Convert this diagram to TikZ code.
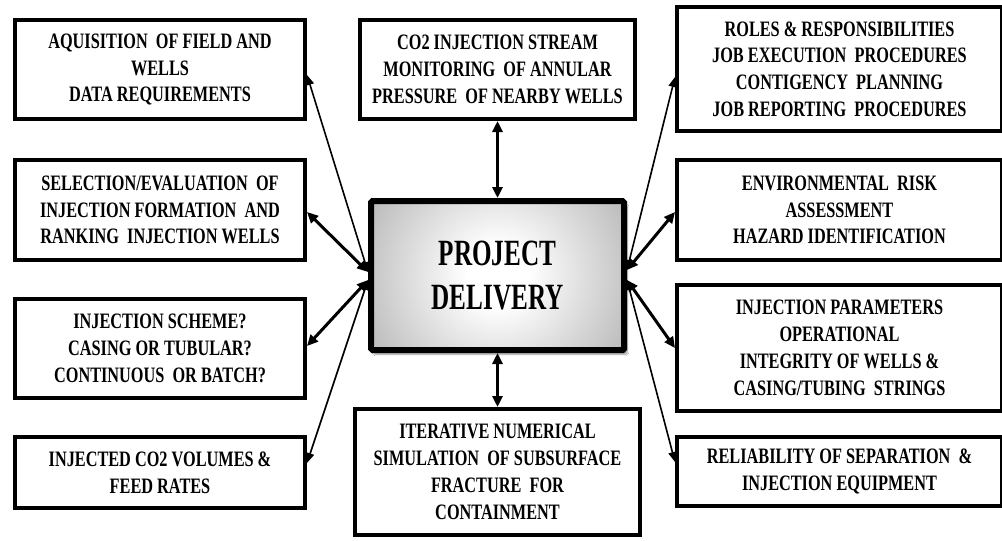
\documentclass[tikz,border=0pt]{standalone}
\usepackage{fontspec}
\setmainfont{Liberation Serif}[FakeStretch=0.74]
\newfontfamily\titlefont{Liberation Serif}[FakeStretch=0.68]
\usetikzlibrary{arrows.meta,shadows.blur}

% soft glow for the central box: white core fading to mid grey
\pgfdeclareradialshading{pdglow}{\pgfpoint{0bp}{0bp}}{%
  color(0bp)=(white); color(6bp)=(white);
  color(42bp)=(black!42); color(80bp)=(black!52)}

\tikzset{
  infobox/.style={draw=black, line width=4pt, fill=white, inner sep=0pt,
    align=center, font=\bfseries\fontsize{22}{26.8}\selectfont},
  hub/.style={draw=black, line width=6pt, rounded corners=1.5pt, inner sep=0pt,
    align=center, font=\titlefont\bfseries\fontsize{37}{44}\selectfont,
    blur shadow={shadow xshift=3pt, shadow yshift=-4pt,
      shadow blur steps=6, shadow opacity=45},
    path picture={\shade[shading=pdglow]
      ([yshift=50pt]path picture bounding box.north west) rectangle
      ([yshift=-50pt]path picture bounding box.south east);}},
  heavylink/.style={line width=3pt,
    {Triangle[length=11pt,width=10pt]}-{Triangle[length=11pt,width=10pt]}},
  lightlink/.style={line width=1.6pt,
    {Triangle[length=10pt,width=8pt]}-{Triangle[length=10pt,width=8pt]}}
}

\begin{document}
\begin{tikzpicture}[x=1pt,y=-1pt]
\clip (0,0) rectangle (1002,541);
\fill[white] (0,0) rectangle (1002,541);

% left column
\node[infobox, minimum width=290pt, minimum height=99pt] (L1) at (160,69.5)
  {AQUISITION~ OF FIELD AND\\WELLS\\DATA REQUIREMENTS};
\node[infobox, minimum width=290pt, minimum height=100pt] (L2) at (160,210)
  {SELECTION/EVALUATION~ OF\\INJECTION FORMATION~ AND\\RANKING~ INJECTION WELLS};
\node[infobox, minimum width=290pt, minimum height=99pt] (L3) at (160,348.5)
  {INJECTION SCHEME?\\CASING OR TUBULAR?\\CONTINUOUS~ OR BATCH?};
\node[infobox, minimum width=290pt, minimum height=71pt] (L4) at (160,472.5)
  {INJECTED CO2 VOLUMES \&\\FEED RATES};

% middle column
\node[infobox, minimum width=275pt, minimum height=99pt] (M1) at (497.5,69.5)
  {CO2 INJECTION STREAM\\MONITORING~ OF ANNULAR\\PRESSURE~ OF NEARBY WELLS};
\node[hub, minimum width=253pt, minimum height=149pt] (C) at (497.5,275.5)
  {PROJECT\\DELIVERY};
\node[infobox, minimum width=285pt, minimum height=126pt] (M2) at (497.5,472)
  {ITERATIVE NUMERICAL\\SIMULATION~ OF SUBSURFACE\\FRACTURE~ FOR\\CONTAINMENT};

% right column
\node[infobox, minimum width=325pt, minimum height=124pt] (R1) at (839.5,69)
  {ROLES \& RESPONSIBILITIES\\JOB EXECUTION~ PROCEDURES\\CONTIGENCY~ PLANNING\\JOB REPORTING~ PROCEDURES};
\node[infobox, minimum width=325pt, minimum height=100pt] (R2) at (839.5,210)
  {ENVIRONMENTAL~ RISK\\ASSESSMENT\\HAZARD IDENTIFICATION};
\node[infobox, minimum width=325pt, minimum height=126pt] (R3) at (839.5,348)
  {INJECTION PARAMETERS\\OPERATIONAL\\INTEGRITY OF WELLS \&\\CASING/TUBING~ STRINGS};
\node[infobox, minimum width=325pt, minimum height=69pt] (R4) at (839.5,471.5)
  {RELIABILITY OF SEPARATION~ \&\\INJECTION EQUIPMENT};

% meeting points on the central box
\coordinate (cwU) at ([yshift=3.5pt]C.west);
\coordinate (cwD) at ([yshift=-4.5pt]C.west);
\coordinate (ceU) at ([yshift=5.5pt]C.east);
\coordinate (ceD) at ([yshift=-4.5pt]C.east);

% connectors
\draw[lightlink] ([yshift=-5.5pt]L1.east) -- (cwU);
\draw[heavylink] ([yshift=-2pt]L2.east) -- (cwU);
\draw[heavylink] ([yshift=2.5pt]L3.east) -- (cwD);
\draw[lightlink] ([yshift=9.5pt]L4.east) -- (cwD);

\draw[lightlink] ([yshift=-8pt]R1.west) -- (ceU);
\draw[heavylink] ([yshift=-2pt]R2.west) -- (ceU);
\draw[heavylink] ([yshift=0pt]R3.west) -- (ceD);
\draw[lightlink] ([yshift=9.5pt]R4.west) -- (ceD);

\draw[heavylink] (M1.south) -- (C.north);
\draw[heavylink] (C.south) -- (M2.north);
\end{tikzpicture}
\end{document}
